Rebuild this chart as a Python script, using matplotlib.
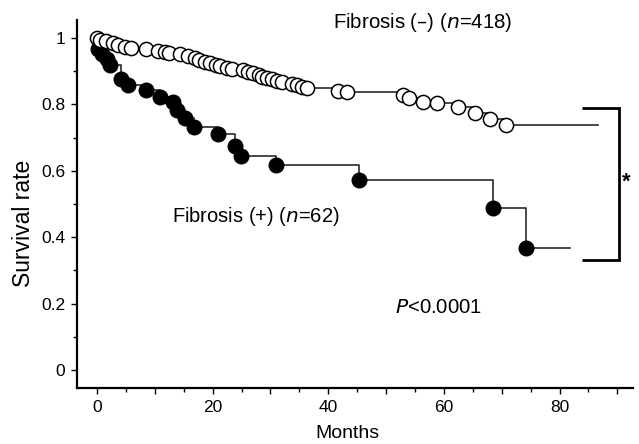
import matplotlib
matplotlib.use("Agg")
import matplotlib.pyplot as plt
from matplotlib.ticker import MultipleLocator, FixedLocator, FuncFormatter

plt.rcParams['font.family'] = ['Liberation Sans', 'DejaVu Sans']

# Fibrosis (-) : event times (months) and survival after each event
neg_t = [0.0, 0.6, 1.5, 2.8, 3.7, 4.8, 5.8, 8.4, 10.5, 11.8, 12.4, 14.4, 15.8, 17.0,
         17.7, 18.7, 19.6, 20.5, 21.3, 22.5, 23.3, 25.3, 26.2, 27.0, 28.0, 28.5,
         29.4, 30.2, 31.2, 32.0, 33.8, 34.6, 35.5, 36.3, 41.7, 43.2,
         53.0, 53.9, 56.4, 58.8, 62.5, 65.4, 68.0, 70.8]
neg_s = [1.000, 0.995, 0.990, 0.985, 0.979, 0.974, 0.969, 0.967, 0.962, 0.957, 0.954,
         0.951, 0.946, 0.940, 0.934, 0.929, 0.924, 0.919, 0.914, 0.910, 0.906, 0.902,
         0.898, 0.894, 0.888, 0.883, 0.879, 0.876, 0.871, 0.867, 0.862, 0.858, 0.853,
         0.848, 0.839, 0.836, 0.828, 0.818, 0.808, 0.803, 0.791, 0.773,
         0.755, 0.738]
neg_end = 86.7

# Fibrosis (+)
pos_t = [0.2, 0.8, 1.7, 2.2, 4.2, 5.4, 8.4, 10.9, 13.2, 13.8, 15.2, 16.8, 20.9,
         23.9, 24.9, 31.0, 45.3, 68.5, 74.2]
pos_s = [0.968, 0.952, 0.936, 0.919, 0.875, 0.859, 0.843, 0.821, 0.806, 0.783,
         0.758, 0.733, 0.711, 0.675, 0.645, 0.617, 0.571, 0.487, 0.367]
pos_end = 81.8

x_tick_labels = ['0', '20', '40', '60', '80']
y_tick_labels = ['0', '0.2', '0.4', '0.6', '0.8', '1']

fig = plt.figure(figsize=(6.39, 4.44), dpi=100)
ax = fig.add_axes([77/639, 1-388/444, (633-77)/639, (388-20)/444])

line_kw = dict(color='#2a2a2a', lw=1.2, drawstyle='steps-post', zorder=2)
ax.plot([0] + pos_t + [pos_end], [1] + pos_s + [pos_s[-1]], **line_kw)
ax.plot(neg_t + [neg_end], neg_s + [neg_s[-1]], **line_kw)
ax.plot(pos_t, pos_s, 'o', ms=10.5, mfc='black', mec='black', mew=1.0, ls='none', zorder=3)
ax.plot(neg_t, neg_s, 'o', ms=10.2, mfc='white', mec='black', mew=1.1, ls='none', zorder=4)

# significance bracket
bx0, bx1 = 83.8, 90.2
ax.plot([bx0, bx1, bx1, bx0], [0.790, 0.790, 0.331, 0.331], color='black', lw=2.0,
        clip_on=False, solid_capstyle='butt', solid_joinstyle='miter')
ax.text(91.6, 0.565, '*', fontsize=16, ha='center', va='center', fontweight='bold')

ax.text(40.8, 1.047, 'Fibrosis (–) ($n$=418)', fontsize=14.7, ha='left', va='center')
ax.text(13.0, 0.462, 'Fibrosis (+) ($n$=62)', fontsize=14.5, ha='left', va='center')
ax.text(51.6, 0.187, '$P$<0.0001', fontsize=14.6, ha='left', va='center')

for s in ['top', 'right']:
    ax.spines[s].set_visible(False)
for s in ['left', 'bottom']:
    ax.spines[s].set_linewidth(1.6)

ax.xaxis.set_major_locator(MultipleLocator(10))
ax.xaxis.set_minor_locator(FixedLocator([5, 15, 25, 35, 45, 55, 65, 75, 85]))
ax.xaxis.set_major_formatter(FuncFormatter(
    lambda v, p: str(int(round(v))) if str(int(round(v))) in x_tick_labels else ''))
ax.yaxis.set_major_locator(FixedLocator([0, 0.2, 0.4, 0.6, 0.8, 1.0]))
ax.set_yticklabels(y_tick_labels)
ax.yaxis.set_minor_locator(FixedLocator([0.1, 0.3, 0.5, 0.7, 0.9]))
ax.tick_params(axis='both', which='major', length=4.5, width=1.0, labelsize=12.5,
               direction='out', pad=4)
ax.tick_params(axis='both', which='minor', length=2.8, width=1.0, direction='out')
ax.set_xlim(-3.46, 92.7)
ax.set_ylim(-0.054, 1.054)

fig.text(347/639, 1-433/444, 'Months', fontsize=14, ha='center', va='center')
fig.text(24/639, 1-223/444, 'Survival rate', fontsize=16.5, ha='center', va='center',
         rotation=90)

fig.savefig('out.png', dpi=100)
